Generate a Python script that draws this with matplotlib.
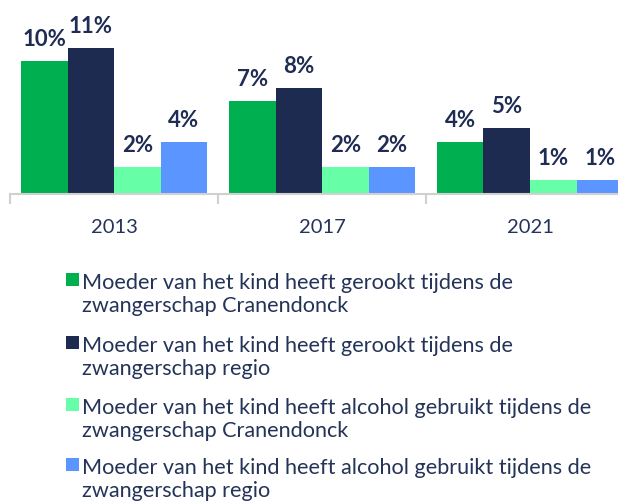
import matplotlib
matplotlib.use("Agg")
import matplotlib.pyplot as plt
from matplotlib.patches import Rectangle
import numpy as np

years = ["2013", "2017", "2021"]
series_names = [
    "Moeder van het kind heeft gerookt tijdens de\nzwangerschap Cranendonck",
    "Moeder van het kind heeft gerookt tijdens de\nzwangerschap regio",
    "Moeder van het kind heeft alcohol gebruikt tijdens de\nzwangerschap Cranendonck",
    "Moeder van het kind heeft alcohol gebruikt tijdens de\nzwangerschap regio",
]
rook_cranendonck = [10.0, 7.0, 3.9]
rook_regio = [11.0, 8.0, 5.0]
alcohol_cranendonck = [2.0, 2.0, 1.05]
alcohol_regio = [3.9, 2.0, 1.05]
series_values = [rook_cranendonck, rook_regio, alcohol_cranendonck, alcohol_regio]
colors = ["#00B050", "#1D2B51", "#66FFA8", "#5B95FF"]

text_color = "#243358"
label_color = "#1F2D54"
FONT = "Lato"

W, H = 618, 502
fig = plt.figure(figsize=(W / 100, H / 100), dpi=100)

# axes: x from 10px to 634px (clipped at figure edge), baseline at y=194px, top at y=0
ax = fig.add_axes([10 / W, (H - 195) / H, 624 / W, 195 / H])
px_per_unit = 146 / 11.0
ax.set_ylim(0, 195 / px_per_unit)
ax.set_xlim(-0.5, len(years) - 0.5)

bw = 46.5 / 208
x = np.arange(len(years))
offsets = [-1.5, -0.5, 0.5, 1.5]
for vals, col, off in zip(series_values, colors, offsets):
    bars = ax.bar(x + off * bw, vals, width=bw, color=col, edgecolor="none", zorder=2)
    for b, v in zip(bars, vals):
        ax.annotate(f"{v:.0f}%", (b.get_x() + b.get_width() / 2, b.get_height()),
                    xytext=(0, 11.5), textcoords="offset points",
                    ha="center", va="baseline", fontsize=16, fontweight="bold",
                    color=label_color, family=FONT)

for s in ["top", "right", "left"]:
    ax.spines[s].set_visible(False)
ax.spines["bottom"].set_color("#D0D0D0")
ax.spines["bottom"].set_linewidth(1.5)
ax.set_yticks([])
ax.set_xticks(x)
ax.set_xticklabels(years, fontsize=14.5, color=text_color, family=FONT)
ax.tick_params(axis="x", which="major", length=0, pad=17)
ax.set_xticks(np.arange(-0.5, len(years)), minor=True)
ax.tick_params(axis="x", which="minor", length=7, width=1.5, color="#D0D0D0")

# legend drawn manually
first_line_centers = [282, 345, 407, 467]
line_step = 23.5
for name, col, yc in zip(series_names, colors, first_line_centers):
    fig.patches.append(Rectangle((66 / W, 1 - (yc + 5) / H), 13 / W, 13 / H,
                                 transform=fig.transFigure, facecolor=col,
                                 edgecolor="none"))
    for i, line in enumerate(name.split("\n")):
        fig.text(82 / W, 1 - (yc + 7 + i * line_step) / H, line, ha="left",
                 va="baseline", fontsize=15.6, color=text_color, family=FONT)

fig.savefig("out.png", dpi=100)
